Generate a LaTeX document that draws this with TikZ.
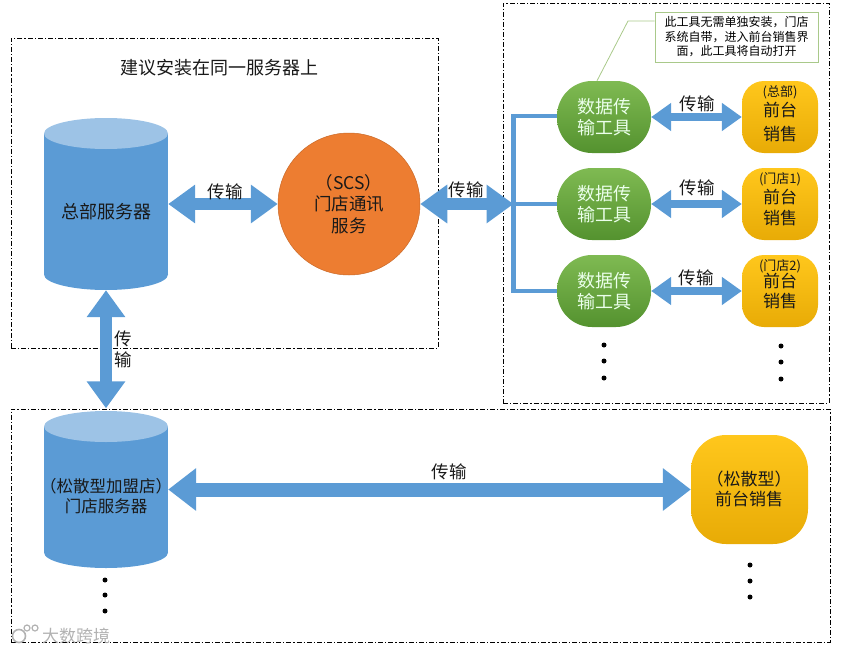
\documentclass[tikz,border=0pt]{standalone}
\usepackage{fontspec}
\setmainfont{Noto Sans CJK SC}
\usetikzlibrary{arrows.meta}
\definecolor{bluemain}{HTML}{5B9BD5}
\definecolor{bluetop}{HTML}{9DC3E6}
\definecolor{orangemain}{HTML}{ED7D31}
\definecolor{greentop}{HTML}{7FBA52}
\definecolor{greenbot}{HTML}{54922F}
\definecolor{goldtop}{HTML}{FFC71C}
\definecolor{goldbot}{HTML}{E8AB06}
\definecolor{notegreen}{HTML}{A9C98A}
\newcommand\fs[1]{\fontsize{#1}{#1}\selectfont}
\tikzset{
 frame/.style={draw=black,line width=0.8pt,dash pattern=on 5pt off 2pt on 1.2pt off 2pt},
 lbl/.style={inner sep=0pt,font=\fs{17.5},text=black!90},
 serverbox/.style={inner sep=0pt,minimum width=124pt},
 fatA/.style={draw=bluemain,line width=12pt,{Triangle[length=27pt,width=37pt]}-{Triangle[length=27pt,width=37pt]}},
 fatB/.style={draw=bluemain,line width=8pt,{Triangle[length=20pt,width=27pt]}-{Triangle[length=20pt,width=27pt]}},
 fatC/.style={draw=bluemain,line width=14pt,{Triangle[length=28pt,width=41pt]}-{Triangle[length=28pt,width=41pt]}},
 bus/.style={draw=bluemain,line width=4.5pt},
 tool/.style={inner sep=0pt,minimum width=94pt,minimum height=72pt,rounded corners=35pt,top color=greentop,bottom color=greenbot,text=green!8!white,font=\fs{18},align=center},
 till/.style={inner sep=0pt,minimum width=76pt,minimum height=72pt,rounded corners=22pt,top color=goldtop,bottom color=goldbot},
 dot/.style={circle,fill=black,inner sep=0pt,minimum size=5pt},
 wm/.style={inner sep=0pt,font=\fs{17},text=black!30},
}
\begin{document}
\begin{tikzpicture}[x=1pt,y=-1pt]
\useasboundingbox (0,0) rectangle (849,653);
% frames
\node[frame,minimum width=427pt,minimum height=310pt,inner sep=0pt] (f1) at (224.5,193) {};
\node[frame,minimum width=326pt,minimum height=400pt,inner sep=0pt] (f2) at (666,203) {};
\node[frame,minimum width=819pt,minimum height=233pt,inner sep=0pt] (f3) at (420.5,525.5) {};
\node[lbl,font=\fs{18}] (title) at (219,68) {建议安装在同一服务器上};
% cylinders
\fill[bluemain] (106,274.5) ellipse [x radius=62,y radius=15.5];
\fill[bluemain] (44,133.5) rectangle (168,274.5);
\fill[bluetop] (106,133.5) ellipse [x radius=62,y radius=15.5];
\node[serverbox,minimum height=172pt] (hq) at (106,204) {};
\fill[bluemain] (106,552.5) ellipse [x radius=62,y radius=15.5];
\fill[bluemain] (44,426.5) rectangle (168,552.5);
\fill[bluetop] (106,426.5) ellipse [x radius=62,y radius=15.5];
\node[serverbox,minimum height=157pt] (store) at (106,489.5) {};
\node[lbl,font=\fs{18}] (hqt) at (106,212) {总部服务器};
\node[lbl,font=\fs{16.5},align=center] (storet) at (106,496) {（松散型加盟店）\\[3.5pt]门店服务器};
% centre circle
\node[circle,fill=orangemain,draw=orangemain!85!black,line width=0.5pt,minimum size=142pt,inner sep=0pt,align=center,font=\fs{17.5},text=black!90] (scs) at (349,204) {（SCS）\\[4pt]门店通讯\\[4pt]服务};
% bus
\coordinate (bt) at (513.5,116);
\coordinate (bm) at (513.5,204);
\coordinate (bb) at (513.5,291);
\draw[bus,line cap=rect] (bt) -- (bb);
% tools
\node[tool] (g1) at (604,117) {数据传\\[3.5pt]输工具};
\node[tool] (g2) at (604,204) {数据传\\[3.5pt]输工具};
\node[tool] (g3) at (604,291) {数据传\\[3.5pt]输工具};
\draw[bus] (bt) -- (bt -| g1.west);
\draw[bus] (bm) -- (g2.west);
\draw[bus] (bb) -- (g3.west);
% tills
\node[till] (y1) at (780,117) {};
\node[till] (y2) at (780,204) {};
\node[till] (y3) at (780,291) {};
\node[till,minimum width=117pt,minimum height=109pt,rounded corners=35pt] (y4) at (749.5,489.5) {};
\foreach \n/\s/\a/\b/\c in {1/总部/92/110/134,2/门店1/179/197/218,3/门店2/266/281/301}{
 \node[lbl,font=\fs{13}] (s\n) at (780,\a) {(\s)};
 \node[lbl,font=\fs{17}] (p\n) at (780,\b) {前台};
 \node[lbl,font=\fs{17}] (q\n) at (780,\c) {销售};
}
\node[lbl,font=\fs{17}] (y4a) at (749,479) {（松散型）};
\node[lbl,font=\fs{17}] (y4b) at (749,499) {前台销售};
% connectors
\draw[fatA] (hq.east |- scs) -- (scs.west);
\draw[fatA] (scs.east) -- (bm);
\draw[fatA,shorten >=2.5pt] (hq.south) -- (store.north);
\draw[fatB] (g1.east) -- (y1.west);
\draw[fatB] (g2.east) -- (y2.west);
\draw[fatB] (g3.east) -- (y3.west);
\draw[fatC] (store.east) -- (y4.west);
% labels
\node[lbl] (t1) at (225,192) {传输};
\node[lbl] (t2) at (466,190) {传输};
\node[lbl] (t3a) at (123,339) {传};
\node[lbl] (t3b) at (123,360) {输};
\node[lbl] (t4) at (697,104) {传输};
\node[lbl] (t5) at (697,188) {传输};
\node[lbl] (t6) at (696,278) {传输};
\node[lbl] (t7) at (449,472) {传输};
% note
\node[draw=notegreen,line width=0.8pt,fill=white,minimum width=163pt,minimum height=50pt,inner sep=0pt,align=center,font=\fs{12},text=black] (note) at (736.5,37) {此工具无需单独安装，门店\\[2.5pt]系统自带，进入前台销售界\\[2.5pt]面，此工具将自动打开};
\coordinate (kink) at (628,21);
\draw[draw=notegreen,line width=0.8pt] (g1.north -| 597,0) -- (kink) -- (note.west |- kink);
% dots
\foreach \x/\a/\b/\c in {604/345/361/378,781/346/362/379,750/565/581/597,105/580/595/611}{
 \node[dot] (da\x) at (\x,\a) {};
 \node[dot] (db\x) at (\x,\b) {};
 \node[dot] (dc\x) at (\x,\c) {};
}
% watermark
\draw[black!30,line width=1.6pt] (19,636) circle [radius=6.5];
\draw[black!30,line width=1.2pt] (27,628) circle [radius=3] (35,628) circle [radius=3];
\node[wm] (wmt) at (76,636) {大数跨境};
\end{tikzpicture}
\end{document}
